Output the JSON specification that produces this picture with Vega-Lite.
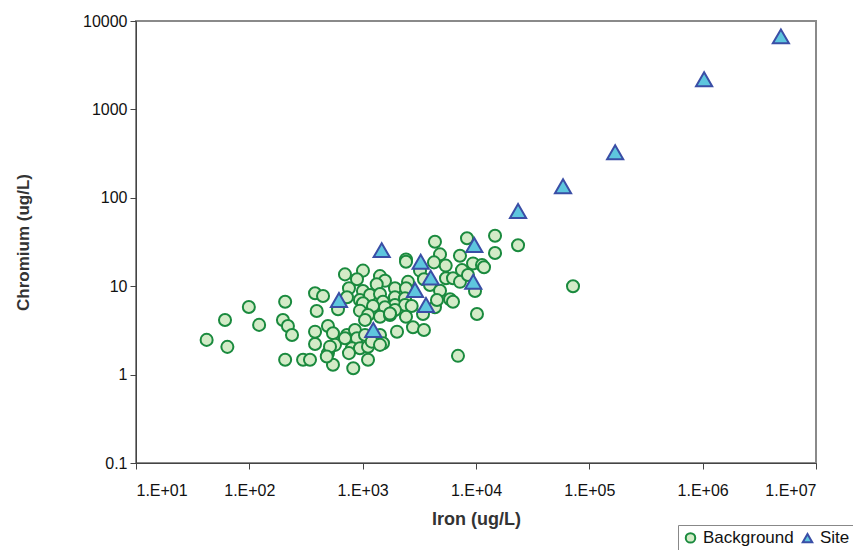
{
  "$schema": "https://vega.github.io/schema/vega-lite/v6.json",
  "autosize": {"type": "none"},
  "width": 680,
  "height": 442,
  "padding": {"left": 136, "top": 21, "right": 37, "bottom": 87},
  "background": "white",
  "config": {
    "font": "Liberation Sans",
    "view": {"stroke": "#8a8a8a", "strokeWidth": 2},
    "axis": {"labelFont": "Liberation Sans", "titleFont": "Liberation Sans", "labelColor": "#111", "titleColor": "#333", "domainColor": "#444", "tickColor": "#444", "grid": false},
    "legend": {
      "orient": "none", "legendX": 542, "legendY": 504,
      "direction": "horizontal", "strokeColor": "#888", "fillColor": "white",
      "padding": 4, "labelFontSize": 17, "labelFont": "Liberation Sans", "labelColor": "#111",
      "symbolSize": 90, "symbolStrokeWidth": 2, "columnPadding": 4, "labelOffset": 4, "cornerRadius": 0
    }
  },
  "data": {"values": [
    {"fe": 42, "cr": 2.47, "g": "Background"},
    {"fe": 64, "cr": 2.06, "g": "Background"},
    {"fe": 61, "cr": 4.15, "g": "Background"},
    {"fe": 99, "cr": 5.82, "g": "Background"},
    {"fe": 122, "cr": 3.65, "g": "Background"},
    {"fe": 207, "cr": 6.68, "g": "Background"},
    {"fe": 198, "cr": 4.15, "g": "Background"},
    {"fe": 219, "cr": 3.55, "g": "Background"},
    {"fe": 238, "cr": 2.81, "g": "Background"},
    {"fe": 207, "cr": 1.47, "g": "Background"},
    {"fe": 298, "cr": 1.47, "g": "Background"},
    {"fe": 343, "cr": 1.47, "g": "Background"},
    {"fe": 4345, "cr": 31.8, "g": "Background"},
    {"fe": 8330, "cr": 34.8, "g": "Background"},
    {"fe": 14720, "cr": 37.2, "g": "Background"},
    {"fe": 23490, "cr": 29.0, "g": "Background"},
    {"fe": 14720, "cr": 23.7, "g": "Background"},
    {"fe": 4813, "cr": 22.9, "g": "Background"},
    {"fe": 2412, "cr": 20.1, "g": "Background"},
    {"fe": 2412, "cr": 18.9, "g": "Background"},
    {"fe": 7222, "cr": 22.1, "g": "Background"},
    {"fe": 4260, "cr": 18.6, "g": "Background"},
    {"fe": 5404, "cr": 17.1, "g": "Background"},
    {"fe": 3206, "cr": 15.0, "g": "Background"},
    {"fe": 9418, "cr": 18.1, "g": "Background"},
    {"fe": 11300, "cr": 17.4, "g": "Background"},
    {"fe": 11770, "cr": 16.4, "g": "Background"},
    {"fe": 7520, "cr": 15.2, "g": "Background"},
    {"fe": 698, "cr": 13.6, "g": "Background"},
    {"fe": 1006, "cr": 15.0, "g": "Background"},
    {"fe": 891, "cr": 12.0, "g": "Background"},
    {"fe": 1422, "cr": 13.0, "g": "Background"},
    {"fe": 1574, "cr": 11.5, "g": "Background"},
    {"fe": 1330, "cr": 10.5, "g": "Background"},
    {"fe": 2512, "cr": 11.2, "g": "Background"},
    {"fe": 3473, "cr": 12.0, "g": "Background"},
    {"fe": 3930, "cr": 10.3, "g": "Background"},
    {"fe": 5436, "cr": 12.3, "g": "Background"},
    {"fe": 6266, "cr": 12.3, "g": "Background"},
    {"fe": 7222, "cr": 11.2, "g": "Background"},
    {"fe": 8494, "cr": 13.4, "g": "Background"},
    {"fe": 757, "cr": 9.46, "g": "Background"},
    {"fe": 1006, "cr": 8.82, "g": "Background"},
    {"fe": 1928, "cr": 9.46, "g": "Background"},
    {"fe": 2412, "cr": 9.46, "g": "Background"},
    {"fe": 4813, "cr": 8.89, "g": "Background"},
    {"fe": 9800, "cr": 8.82, "g": "Background"},
    {"fe": 380, "cr": 8.31, "g": "Background"},
    {"fe": 447, "cr": 7.75, "g": "Background"},
    {"fe": 727, "cr": 7.49, "g": "Background"},
    {"fe": 946, "cr": 6.98, "g": "Background"},
    {"fe": 1161, "cr": 7.96, "g": "Background"},
    {"fe": 1422, "cr": 8.16, "g": "Background"},
    {"fe": 1511, "cr": 6.68, "g": "Background"},
    {"fe": 1928, "cr": 7.49, "g": "Background"},
    {"fe": 1928, "cr": 6.13, "g": "Background"},
    {"fe": 2364, "cr": 7.3, "g": "Background"},
    {"fe": 2364, "cr": 6.13, "g": "Background"},
    {"fe": 5899, "cr": 7.11, "g": "Background"},
    {"fe": 6266, "cr": 6.68, "g": "Background"},
    {"fe": 2707, "cr": 5.97, "g": "Background"},
    {"fe": 1006, "cr": 6.41, "g": "Background"},
    {"fe": 1234, "cr": 5.97, "g": "Background"},
    {"fe": 1574, "cr": 5.78, "g": "Background"},
    {"fe": 1928, "cr": 5.38, "g": "Background"},
    {"fe": 393, "cr": 5.25, "g": "Background"},
    {"fe": 606, "cr": 5.48, "g": "Background"},
    {"fe": 946, "cr": 5.29, "g": "Background"},
    {"fe": 1115, "cr": 4.73, "g": "Background"},
    {"fe": 1422, "cr": 4.52, "g": "Background"},
    {"fe": 1742, "cr": 4.73, "g": "Background"},
    {"fe": 2412, "cr": 4.52, "g": "Background"},
    {"fe": 3408, "cr": 4.85, "g": "Background"},
    {"fe": 4345, "cr": 5.78, "g": "Background"},
    {"fe": 10200, "cr": 4.85, "g": "Background"},
    {"fe": 1049, "cr": 4.15, "g": "Background"},
    {"fe": 494, "cr": 3.55, "g": "Background"},
    {"fe": 380, "cr": 3.06, "g": "Background"},
    {"fe": 547, "cr": 2.94, "g": "Background"},
    {"fe": 727, "cr": 2.81, "g": "Background"},
    {"fe": 855, "cr": 3.2, "g": "Background"},
    {"fe": 891, "cr": 2.58, "g": "Background"},
    {"fe": 1049, "cr": 2.81, "g": "Background"},
    {"fe": 1422, "cr": 2.81, "g": "Background"},
    {"fe": 1511, "cr": 2.26, "g": "Background"},
    {"fe": 2009, "cr": 3.06, "g": "Background"},
    {"fe": 2780, "cr": 3.43, "g": "Background"},
    {"fe": 3473, "cr": 3.2, "g": "Background"},
    {"fe": 380, "cr": 2.22, "g": "Background"},
    {"fe": 570, "cr": 2.17, "g": "Background"},
    {"fe": 494, "cr": 1.75, "g": "Background"},
    {"fe": 805, "cr": 1.99, "g": "Background"},
    {"fe": 946, "cr": 1.99, "g": "Background"},
    {"fe": 1115, "cr": 2.07, "g": "Background"},
    {"fe": 547, "cr": 1.29, "g": "Background"},
    {"fe": 826, "cr": 1.18, "g": "Background"},
    {"fe": 6934, "cr": 1.63, "g": "Background"},
    {"fe": 757, "cr": 1.75, "g": "Background"},
    {"fe": 71780, "cr": 10.0, "g": "Background"},
    {"fe": 4526, "cr": 6.98, "g": "Background"},
    {"fe": 1115, "cr": 1.47, "g": "Background"},
    {"fe": 515, "cr": 2.07, "g": "Background"},
    {"fe": 482, "cr": 1.6, "g": "Background"},
    {"fe": 698, "cr": 2.58, "g": "Background"},
    {"fe": 1202, "cr": 2.36, "g": "Background"},
    {"fe": 1422, "cr": 2.17, "g": "Background"},
    {"fe": 1742, "cr": 4.9, "g": "Background"},
    {"fe": 4900000, "cr": 6700, "g": "Site"},
    {"fe": 1030000, "cr": 2190, "g": "Site"},
    {"fe": 169000, "cr": 328, "g": "Site"},
    {"fe": 58600, "cr": 135, "g": "Site"},
    {"fe": 23500, "cr": 70.8, "g": "Site"},
    {"fe": 1472, "cr": 25.6, "g": "Site"},
    {"fe": 9660, "cr": 29.2, "g": "Site"},
    {"fe": 3251, "cr": 18.9, "g": "Site"},
    {"fe": 3985, "cr": 12.5, "g": "Site"},
    {"fe": 9460, "cr": 11.2, "g": "Site"},
    {"fe": 2897, "cr": 9.06, "g": "Site"},
    {"fe": 3620, "cr": 6.13, "g": "Site"},
    {"fe": 618, "cr": 6.98, "g": "Site"},
    {"fe": 1241, "cr": 3.2, "g": "Site"}
  ]},
  "encoding": {
    "x": {
      "field": "fe", "type": "quantitative",
      "scale": {"type": "log", "domain": [10, 10000000], "nice": false},
      "axis": {
        "title": "Iron (ug/L)",
        "values": [10, 100, 1000, 10000, 100000, 1000000, 10000000],
        "labelExpr": "'1.E+0' + round(log(datum.value)/LN10)",
        "labelFontSize": 16, "labelPadding": 13, "tickSize": 6,
        "titleFontSize": 18, "titleFontWeight": "bold", "titlePadding": 12
      }
    },
    "y": {
      "field": "cr", "type": "quantitative",
      "scale": {"type": "log", "domain": [0.1, 10000], "nice": false},
      "axis": {
        "title": "Chromium (ug/L)",
        "values": [0.1, 1, 10, 100, 1000, 10000],
        "format": "~g",
        "labelFontSize": 16, "labelPadding": 3, "tickSize": 6,
        "titleFontSize": 17, "titleFontWeight": "bold", "titlePadding": 50
      }
    },
    "fill": {
      "field": "g", "type": "nominal", "title": null,
      "scale": {"domain": ["Background", "Site"], "range": ["#d3ebc7", "#5ec6de"]}
    },
    "stroke": {
      "field": "g", "type": "nominal", "title": null,
      "scale": {"domain": ["Background", "Site"], "range": ["#1a8a3e", "#3a4ea6"]}
    },
    "shape": {
      "field": "g", "type": "nominal", "title": null,
      "scale": {"domain": ["Background", "Site"], "range": ["circle", "triangle-up"]}
    }
  },
  "layer": [
    {
      "transform": [{"filter": "datum.g === 'Background'"}],
      "mark": {"type": "point", "filled": true, "opacity": 1, "strokeWidth": 2, "size": 145}
    },
    {
      "transform": [{"filter": "datum.g === 'Site'"}],
      "mark": {"type": "point", "filled": true, "opacity": 1, "strokeWidth": 2, "size": 260}
    }
  ]
}
